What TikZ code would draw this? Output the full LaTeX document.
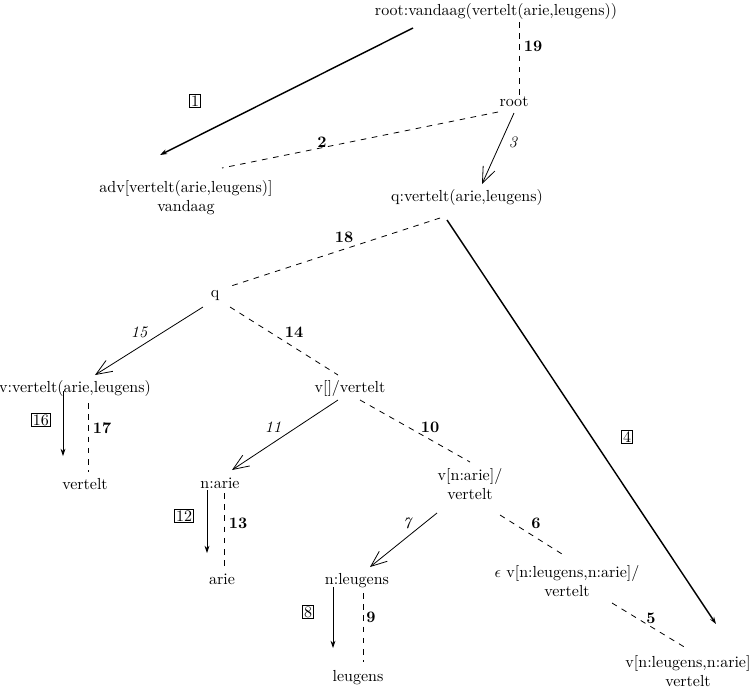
\documentclass[tikz,border=0pt]{standalone}
\usetikzlibrary{arrows.meta}
\newcommand\twol[2]{\begin{tabular}[t]{@{}c@{}}#1\\#2\end{tabular}}
\tikzset{
  txt/.style={inner sep=0pt, anchor=base},
  sol/.style={line width=0.5pt},
  thk/.style={line width=0.9pt},
  dsh/.style={line width=0.5pt, dash pattern=on 3.5pt off 3.5pt},
  barb/.style={-{Straight Barb[length=10pt,width=8pt,line width=0.5pt]}},
  ftip/.style={-{Stealth[length=4.5pt,width=3pt]}},
  blbl/.style={draw, inner sep=0.8pt, line width=0.4pt},
  bl/.style={inner sep=0pt, font=\bfseries},
  il/.style={inner sep=0pt, font=\itshape},
}
\begin{document}
\begin{tikzpicture}[x=0.625pt, y=-0.625pt]
\useasboundingbox (0,0) rectangle (750,689);
% nodes
\node[txt] (top) at (496,15) {root:vandaag(vertelt(arie,leugens))};
\node[txt] (root) at (514,106) {root};
\node[txt] (adv) at (186,192) {\twol{adv[vertelt(arie,leugens)]}{vandaag}};
\node[txt] (qv) at (467,201) {q:vertelt(arie,leugens)};
\node[txt] (q) at (215,297) {q};
\node[txt] (vv) at (75,392) {v:vertelt(arie,leugens)};
\node[txt] (ve) at (350,392) {v[]/vertelt};
\node[txt] (vert) at (85,489) {vertelt};
\node[txt] (na) at (220,488) {n:arie};
\node[txt] (vna) at (470,480) {\twol{v[n:arie]/}{vertelt}};
\node[txt] (arie) at (222,584) {arie};
\node[txt] (nl) at (357,584) {n:leugens};
\node[txt] (eps) at (567,577) {\twol{$\epsilon$ v[n:leugens,n:arie]/}{vertelt}};
\node[txt] (leug) at (358,681) {leugens};
\node[txt] (vfin) at (688,667) {\twol{v[n:leugens,n:arie]}{vertelt}};
% connector end points
\coordinate (a1s) at (413,28);  \coordinate (a1e) at (160,155);
\coordinate (a2s) at (498,112); \coordinate (a2e) at (222,168);
\coordinate (a3s) at (514,113); \coordinate (a3e) at (482,184);
\coordinate (a19s) at (519,22); \coordinate (a19e) at (519,97);
\coordinate (a18s) at (440,218); \coordinate (a18e) at (228,287);
\coordinate (a4s) at (447,220); \coordinate (a4e) at (716,624);
\coordinate (a15s) at (203,307); \coordinate (a15e) at (95,375);
\coordinate (a14s) at (230,307); \coordinate (a14e) at (338,375);
\coordinate (a16s) at (63,391); \coordinate (a16e) at (63,456);
\coordinate (a17s) at (88,403); \coordinate (a17e) at (88,472);
\coordinate (a11s) at (338,400); \coordinate (a11e) at (232,470);
\coordinate (a10s) at (360,400); \coordinate (a10e) at (470,462);
\coordinate (a12s) at (207,490); \coordinate (a12e) at (207,553);
\coordinate (a13s) at (224,493); \coordinate (a13e) at (224,567);
\coordinate (a7s) at (437,513); \coordinate (a7e) at (370,567);
\coordinate (a6s) at (500,515); \coordinate (a6e) at (562,554);
\coordinate (a8s) at (333,587); \coordinate (a8e) at (333,648);
\coordinate (a9s) at (363,593); \coordinate (a9e) at (363,662);
\coordinate (a5s) at (612,603); \coordinate (a5e) at (686,648);
% connectors
\draw[thk,ftip] (a1s) -- (a1e);
\draw[dsh] (a2s) -- (a2e);
\draw[sol,barb] (a3s) -- (a3e);
\draw[dsh] (a19s) -- (a19e);
\draw[dsh] (a18s) -- (a18e);
\draw[thk,ftip] (a4s) -- (a4e);
\draw[sol,barb] (a15s) -- (a15e);
\draw[dsh] (a14s) -- (a14e);
\draw[sol,ftip] (a16s) -- (a16e);
\draw[dsh] (a17s) -- (a17e);
\draw[sol,barb] (a11s) -- (a11e);
\draw[dsh] (a10s) -- (a10e);
\draw[sol,ftip] (a12s) -- (a12e);
\draw[dsh] (a13s) -- (a13e);
\draw[sol,barb] (a7s) -- (a7e);
\draw[dsh] (a6s) -- (a6e);
\draw[sol,ftip] (a8s) -- (a8e);
\draw[dsh] (a9s) -- (a9e);
\draw[dsh] (a5s) -- (a5e);
% labels
\node[blbl] (l1) at (195,101) {1};
\node[bl] (l2) at (322,142) {2};
\node[il] (l3) at (513,142) {3};
\node[bl] (l19) at (533,46) {19};
\node[bl] (l18) at (344,237) {18};
\node[blbl] (l4) at (627,437) {4};
\node[il] (l15) at (139,332) {15};
\node[bl] (l14) at (294,332) {14};
\node[blbl] (l16) at (41,420) {16};
\node[bl] (l17) at (102,428) {17};
\node[il] (l11) at (273,427) {11};
\node[bl] (l10) at (430,427) {10};
\node[blbl] (l12) at (184,516) {12};
\node[bl] (l13) at (238,523) {13};
\node[il] (l7) at (407,523) {7};
\node[bl] (l6) at (536,523) {6};
\node[blbl] (l8) at (308,612) {8};
\node[bl] (l9) at (371,617) {9};
\node[bl] (l5) at (651,618) {5};
\end{tikzpicture}
\end{document}
